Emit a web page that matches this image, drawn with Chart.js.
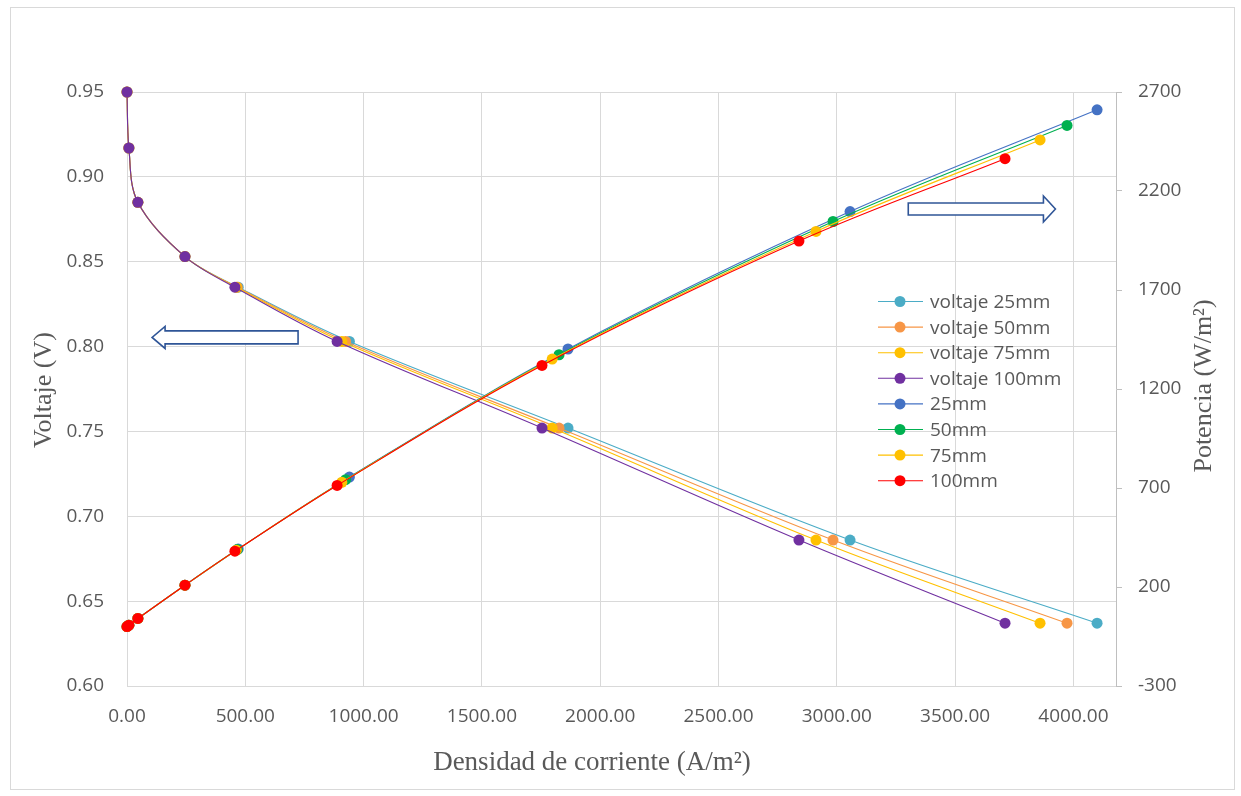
<!DOCTYPE html>
<html>
<head>
<meta charset="utf-8">
<title>Curvas de polarización y potencia</title>
<script src="https://cdn.jsdelivr.net/npm/chart.js@4/dist/chart.umd.min.js"></script>
<style>
  html, body { margin: 0; padding: 0; background: #ffffff; }
  #wrap { position: relative; width: 1241px; height: 796px; }
  canvas { display: block; }
</style>
</head>
<body>
<div id="wrap"><canvas id="chart" width="1241" height="796"></canvas></div>
<script>
// Current density (A/m²) for each channel length
const current25  = [0, 8, 46, 245, 470, 940, 1864, 3056, 4100];
const current50  = [0, 8, 46, 245, 466, 924, 1826, 2984, 3973];
const current75  = [0, 8, 46, 245, 462, 908, 1797, 2912, 3859];
const current100 = [0, 8, 46, 245, 456, 888, 1754, 2840, 3711];

// Cell voltage (V), same operating points for every length
const voltage = [0.950, 0.917, 0.885, 0.853, 0.835, 0.803, 0.752, 0.686, 0.637];

// Power density (W/m²)
const power25  = [0, 7, 41, 209, 392, 755, 1402, 2096, 2610];
const power50  = [0, 7, 41, 209, 389, 742, 1373, 2046, 2531];
const power75  = [0, 7, 41, 209, 386, 729, 1351, 1996, 2458];
const power100 = [0, 7, 41, 209, 381, 713, 1319, 1947, 2363];

const voltageNames = ['voltaje 25mm', 'voltaje 50mm', 'voltaje 75mm', 'voltaje 100mm'];
const powerNames   = ['25mm', '50mm', '75mm', '100mm'];

// Tick values of the three axes
const xTicks       = [0, 500, 1000, 1500, 2000, 2500, 3000, 3500, 4000];
const voltageTicks = [0.60, 0.65, 0.70, 0.75, 0.80, 0.85, 0.90, 0.95];
const powerTicks   = [-300, 200, 700, 1200, 1700, 2200, 2700];
const xMin = 0, xMax = 4180;

const voltageColors = ['#4BACC6', '#F79646', '#FFC000', '#7030A0'];
const powerColors   = ['#4472C4', '#00B050', '#FFC000', '#FF0000'];

const currents = [current25, current50, current75, current100];
const powers   = [power25, power50, power75, power100];

function toPoints(xs, ys) { return xs.map((x, i) => ({ x: x, y: ys[i] })); }

const datasets = [];
voltageNames.forEach((name, i) => {
  datasets.push({
    label: name,
    data: toPoints(currents[i], voltage),
    yAxisID: 'y',
    borderColor: voltageColors[i],
    backgroundColor: voltageColors[i],
  });
});
powerNames.forEach((name, i) => {
  datasets.push({
    label: name,
    data: toPoints(currents[i], powers[i]),
    yAxisID: 'y2',
    borderColor: powerColors[i],
    backgroundColor: powerColors[i],
  });
});
datasets.forEach((d, i) => {
  d.showLine = true;
  d.borderWidth = 1.1;
  d.pointRadius = 5.5;
  d.pointHoverRadius = 5.5;
  d.pointBorderWidth = 0;
  d.tension = 0.35;          // smoothed line between the measured points
  d.clip = false;
  d.order = datasets.length - i;   // later series painted on top
});

const TEXT = '#595959';
const GRID = '#d9d9d9';
const SANS = "'Open Sans', 'Noto Sans', sans-serif";
const SERIF = "'Liberation Serif', 'DejaVu Serif', serif";

// Frame, axis titles, direction arrows and legend
const decorations = {
  id: 'decorations',
  beforeDraw(chart) {
    const ctx = chart.ctx;
    ctx.save();
    ctx.fillStyle = '#ffffff';
    ctx.fillRect(0, 0, chart.width, chart.height);
    ctx.strokeStyle = '#d9d9d9';
    ctx.lineWidth = 1;
    ctx.strokeRect(10.5, 7.5, 1224, 782);
    ctx.restore();
  },
  afterDatasetsDraw(chart) {
    const ctx = chart.ctx;
    const xs = chart.scales.x, ys = chart.scales.y;
    function arrow(fromVal, toVal, yVal, shaftHalf, headHalf, headLen) {
      const x0 = xs.getPixelForValue(fromVal);
      const x1 = xs.getPixelForValue(toVal);
      const y = ys.getPixelForValue(yVal);
      const dir = Math.sign(x1 - x0);
      const hb = x1 - dir * headLen;
      ctx.beginPath();
      ctx.moveTo(x0, y - shaftHalf);
      ctx.lineTo(hb, y - shaftHalf);
      ctx.lineTo(hb, y - headHalf);
      ctx.lineTo(x1, y);
      ctx.lineTo(hb, y + headHalf);
      ctx.lineTo(hb, y + shaftHalf);
      ctx.lineTo(x0, y + shaftHalf);
      ctx.closePath();
      ctx.fillStyle = '#ffffff';
      ctx.fill();
      ctx.strokeStyle = '#2F5597';
      ctx.lineWidth = 1.6;
      ctx.stroke();
    }
    ctx.save();
    arrow(723, 106, 0.8054, 6.5, 11, 13);   // voltage curves read on the left axis
    arrow(3302, 3924, 0.8811, 6, 13, 12);   // power curves read on the right axis
    ctx.restore();
  },
  afterDraw(chart) {
    const ctx = chart.ctx;
    ctx.save();
    ctx.fillStyle = TEXT;
    ctx.textAlign = 'center';
    ctx.textBaseline = 'middle';
    ctx.font = '27px ' + SERIF;
    ctx.fillText('Densidad de corriente (A/m²)', 592, 763);
    ctx.font = '26px ' + SERIF;
    ctx.save();
    ctx.translate(44, 390);
    ctx.rotate(-Math.PI / 2);
    ctx.fillText('Voltaje (V)', 0, 0);
    ctx.restore();
    ctx.save();
    ctx.translate(1204, 386);
    ctx.rotate(-Math.PI / 2);
    ctx.fillText('Potencia (W/m²)', 0, 0);
    ctx.restore();

    // legend
    const lx0 = 878, lx1 = 923, mx = 900, tx = 930, top = 301.5, step = 25.6;
    ctx.font = '19px ' + SANS;
    ctx.textAlign = 'left';
    chart.data.datasets.forEach((d, i) => {
      const y = top + i * step;
      ctx.strokeStyle = d.borderColor;
      ctx.lineWidth = 1.1;
      ctx.beginPath();
      ctx.moveTo(lx0, y);
      ctx.lineTo(lx1, y);
      ctx.stroke();
      ctx.fillStyle = d.backgroundColor;
      ctx.beginPath();
      ctx.arc(mx, y, 5.5, 0, Math.PI * 2);
      ctx.fill();
      ctx.fillStyle = TEXT;
      ctx.fillText(d.label, tx, y + 1);
    });
    ctx.restore();
  }
};

function fixedTicks(values) {
  return function (scale) {
    scale.ticks = values.map(v => ({ value: v }));
  };
}

new Chart(document.getElementById('chart'), {
  type: 'scatter',
  data: { datasets: datasets },
  plugins: [decorations],
  options: {
    responsive: false,
    animation: false,
    events: [],
    layout: { padding: { top: 92, left: 0, right: 0, bottom: 0 } },
    plugins: {
      legend: { display: false },
      tooltip: { enabled: false }
    },
    scales: {
      x: {
        type: 'linear',
        position: 'bottom',
        min: xMin, max: xMax,
        afterBuildTicks: fixedTicks(xTicks),
        afterFit(scale) { scale.height = 796 - 686; },
        ticks: {
          color: TEXT,
          font: { family: SANS, size: 19 },
          padding: 19,
          maxRotation: 0,
          autoSkip: false,
          callback: v => Number(v).toFixed(2)
        },
        grid: { color: GRID, lineWidth: 1, drawTicks: false },
        border: { display: true, color: GRID }
      },
      y: {
        type: 'linear',
        position: 'left',
        min: voltageTicks[0], max: voltageTicks[voltageTicks.length - 1],
        afterBuildTicks: fixedTicks(voltageTicks),
        afterFit(scale) { scale.width = 127; },
        ticks: {
          color: TEXT,
          font: { family: SANS, size: 19 },
          padding: 23,
          autoSkip: false,
          callback: v => Number(v).toFixed(2)
        },
        grid: { color: GRID, lineWidth: 1, drawTicks: false },
        border: { display: true, color: GRID }
      },
      y2: {
        type: 'linear',
        position: 'right',
        min: powerTicks[0], max: powerTicks[powerTicks.length - 1],
        afterBuildTicks: fixedTicks(powerTicks),
        afterFit(scale) { scale.width = 1241 - 1116; },
        ticks: {
          color: TEXT,
          font: { family: SANS, size: 19 },
          padding: 16,
          autoSkip: false,
          callback: v => String(v)
        },
        grid: { display: true, drawOnChartArea: false, drawTicks: true, tickLength: 6, color: '#bfbfbf' },
        border: { display: true, color: '#bfbfbf' }
      }
    }
  }
});
</script>
</body>
</html>
